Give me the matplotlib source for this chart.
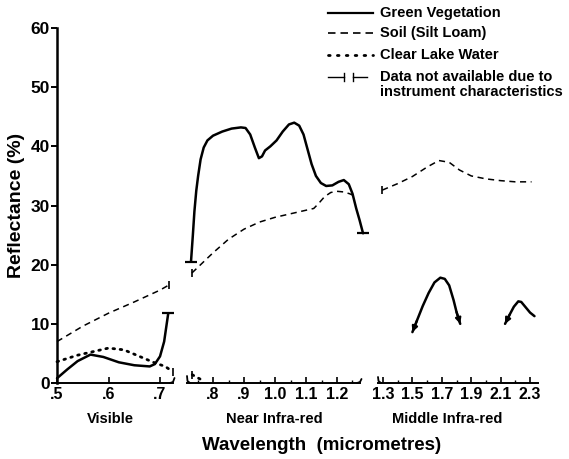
import matplotlib
matplotlib.use("Agg")
import matplotlib.pyplot as plt

plt.rcParams['font.family'] = ['Liberation Sans', 'DejaVu Sans']
plt.rcParams['font.weight'] = 'bold'

# ---------------- data ----------------
# Visible region
veg_vis_x = [0.50, 0.52, 0.54, 0.565, 0.59, 0.62, 0.65, 0.68, 0.69, 0.70, 0.708, 0.716]
veg_vis_y = [0.8, 2.3, 3.7, 4.8, 4.4, 3.5, 3.0, 2.8, 3.2, 4.5, 7.0, 11.8]
soil_vis_x = [0.50, 0.55, 0.60, 0.65, 0.70, 0.718]
soil_vis_y = [7.0, 9.6, 11.8, 13.7, 15.7, 16.6]
water_vis_x = [0.50, 0.54, 0.565, 0.60, 0.63, 0.66, 0.69, 0.71, 0.725]
water_vis_y = [3.6, 4.7, 5.2, 5.9, 5.6, 4.5, 3.4, 2.8, 1.9]

# Near infra-red region
veg_nir_x = [0.729, 0.735, 0.740, 0.746, 0.752, 0.760, 0.770, 0.782, 0.80, 0.83, 0.86, 0.89,
             0.905, 0.92, 0.935, 0.948, 0.958, 0.968, 0.985, 1.005, 1.025, 1.045, 1.062,
             1.078, 1.092, 1.105, 1.118, 1.132, 1.148, 1.165, 1.185, 1.205, 1.222, 1.238,
             1.250, 1.262, 1.273, 1.284]
veg_nir_y = [20.5, 25, 29, 32.5, 35, 37.8, 39.8, 41.0, 41.8, 42.5, 43.0, 43.2,
             43.1, 42.0, 39.8, 38.0, 38.3, 39.3, 40.0, 41.0, 42.5, 43.7, 44.0,
             43.5, 42.0, 39.5, 37.0, 35.0, 33.8, 33.3, 33.4, 34.0, 34.3, 33.6,
             32.0, 29.5, 27.5, 25.3]
soil_nir_x = [0.732, 0.76, 0.80, 0.85, 0.90, 0.95, 1.00, 1.05, 1.10, 1.125, 1.14, 1.16,
              1.18, 1.20, 1.22, 1.24, 1.258]
soil_nir_y = [18.6, 20.0, 22.0, 24.3, 26.0, 27.2, 28.0, 28.6, 29.2, 29.5, 30.3, 31.5,
              32.2, 32.4, 32.3, 32.0, 31.6]
water_nir_x = [0.733, 0.75, 0.768]
water_nir_y = [1.4, 0.9, 0.4]

# Middle infra-red region
soil_mir_x = [1.295, 1.40, 1.50, 1.60, 1.68, 1.75, 1.82, 1.90, 2.00, 2.10, 2.20, 2.31]
soil_mir_y = [32.6, 33.7, 34.9, 36.5, 37.6, 37.3, 36.0, 35.0, 34.5, 34.2, 34.0, 34.0]
veg_mir1_x = [1.50, 1.53, 1.57, 1.61, 1.65, 1.69, 1.72, 1.75, 1.78, 1.80, 1.825]
veg_mir1_y = [8.6, 10.5, 13.0, 15.2, 17.0, 17.8, 17.6, 16.5, 14.0, 12.0, 10.0]
veg_mir2_x = [2.13, 2.16, 2.19, 2.22, 2.24, 2.27, 2.30, 2.33]
veg_mir2_y = [10.0, 11.5, 12.9, 13.8, 13.7, 12.8, 11.9, 11.3]

y_ticks = [0, 10, 20, 30, 40, 50, 60]
vis_ticks = [0.5, 0.6, 0.7]
vis_labels = ['.5', '.6', '.7']
nir_ticks = [0.8, 0.9, 1.0, 1.1, 1.2]
nir_labels = ['.8', '.9', '1.0', '1.1', '1.2']
mir_ticks = [1.3, 1.5, 1.7, 1.9, 2.1, 2.3]
mir_labels = ['1.3', '1.5', '1.7', '1.9', '2.1', '2.3']
mir_minor = [1.4, 1.6, 1.8, 2.0, 2.2]
nir_minor = [0.75, 0.85, 0.95, 1.05, 1.15, 1.25]

legend_labels = ['Green Vegetation', 'Soil (Silt Loam)', 'Clear Lake Water',
                 'Data not available due to\ninstrument characteristics']

# ---------------- figure ----------------
W, H = 569, 459
fig = plt.figure(figsize=(W / 100, H / 100), dpi=100)

def axes_px(x0, x1, y_top=28, y_bot=383):
    return fig.add_axes([x0 / W, (H - y_bot) / H, (x1 - x0) / W, (y_bot - y_top) / H])

ax1 = axes_px(57, 173)
ax2 = axes_px(187, 360)
ax3 = axes_px(378, 538)
ax1.set_xlim(0.5, 0.7252)
ax2.set_xlim(0.7161, 1.2742)
ax3.set_xlim(1.266, 2.354)

K = 'black'
veg_kw = dict(color=K, lw=1.8, solid_capstyle='round', solid_joinstyle='round', clip_on=False)
soil_kw = dict(color=K, lw=1.1, linestyle=(0, (4, 3)), clip_on=False)
water_kw = dict(color=K, lw=2.0, linestyle=(0, (0.6, 2.0)), dash_capstyle='round', clip_on=False)

for ax in (ax1, ax2, ax3):
    ax.set_ylim(0, 60)
    ax.patch.set_alpha(0)
    for s in ('top', 'right'):
        ax.spines[s].set_visible(False)
    ax.spines['bottom'].set_linewidth(1.4)
    ax.tick_params(axis='x', direction='in', length=4, width=1.2, pad=3, labelsize=11.5)
    ax.tick_params(axis='x', which='minor', direction='in', length=2.5, width=1.0)

ax1.spines['left'].set_linewidth(1.8)
ax1.set_yticks(y_ticks)
ax1.set_yticklabels([str(v) for v in y_ticks], fontsize=12.5, fontweight='bold')
ax1.tick_params(axis='y', direction='out', length=4, width=1.4, pad=1)
for ax in (ax2, ax3):
    ax.spines['left'].set_visible(False)
    ax.set_yticks([])

ax1.set_xticks(vis_ticks)
ax1.set_xticklabels(vis_labels, fontsize=11.5, fontweight='bold')
ax2.set_xticks(nir_ticks)
ax2.set_xticklabels(nir_labels, fontsize=11.5, fontweight='bold')
ax2.set_xticks(nir_minor, minor=True)
ax3.set_xticks(mir_ticks)
ax3.set_xticklabels(mir_labels, fontsize=11.5, fontweight='bold')
ax3.set_xticks(mir_minor, minor=True)

# Visible
ax1.plot(veg_vis_x, veg_vis_y, **veg_kw)
ax1.plot(soil_vis_x, soil_vis_y, **soil_kw)
ax1.plot(water_vis_x, water_vis_y, **water_kw)
ax1.plot(veg_vis_x[-1], veg_vis_y[-1], marker='_', ms=8, mew=1.6, color=K, clip_on=False)
ax1.plot(soil_vis_x[-1], soil_vis_y[-1], marker='|', ms=6, mew=1.2, color=K, clip_on=False)
ax1.plot(water_vis_x[-1], water_vis_y[-1], marker='|', ms=6, mew=1.2, color=K, clip_on=False)

# Near IR
ax2.plot(veg_nir_x, veg_nir_y, **veg_kw)
ax2.plot(soil_nir_x, soil_nir_y, **soil_kw)
ax2.plot(water_nir_x, water_nir_y, **water_kw)
ax2.plot([veg_nir_x[0], veg_nir_x[-1]], [veg_nir_y[0], veg_nir_y[-1]], ls='none',
         marker='_', ms=8, mew=1.6, color=K, clip_on=False)
ax2.plot(soil_nir_x[0], soil_nir_y[0], marker='|', ms=6, mew=1.2, color=K, clip_on=False)
ax2.plot(water_nir_x[0], water_nir_y[0], marker='|', ms=6, mew=1.2, color=K, clip_on=False)

# Middle IR
ax3.plot(soil_mir_x, soil_mir_y, **soil_kw)
ax3.plot(soil_mir_x[0], soil_mir_y[0], marker='|', ms=6, mew=1.2, color=K, clip_on=False)
ax3.plot(veg_mir1_x, veg_mir1_y, **veg_kw)
ax3.plot(veg_mir2_x, veg_mir2_y, **veg_kw)
arrow = dict(arrowstyle='-|>', color=K, lw=1.6, mutation_scale=8, shrinkA=0, shrinkB=0)
ax3.annotate('', xy=(veg_mir1_x[0], veg_mir1_y[0]), xytext=(veg_mir1_x[1], veg_mir1_y[1]),
             arrowprops=arrow, annotation_clip=False)
ax3.annotate('', xy=(veg_mir1_x[-1], veg_mir1_y[-1]), xytext=(veg_mir1_x[-2], veg_mir1_y[-2]),
             arrowprops=arrow, annotation_clip=False)
ax3.annotate('', xy=(veg_mir2_x[0], veg_mir2_y[0]), xytext=(veg_mir2_x[1], veg_mir2_y[1]),
             arrowprops=arrow, annotation_clip=False)

# ---------------- overlay in pixel coordinates ----------------
ov = fig.add_axes([0, 0, 1, 1])
ov.set_xlim(0, W)
ov.set_ylim(H, 0)
ov.axis('off')
ov.patch.set_alpha(0)

# axis-break hooks
hk = dict(color=K, lw=1.3, solid_capstyle='round')
ov.plot([170, 173, 174.5], [383, 382, 378], **hk)
ov.plot([190, 187.5, 187], [383, 381, 376], **hk)
ov.plot([357, 360, 361.5], [383, 382, 379], **hk)
ov.plot([381, 378.5, 378], [383, 381, 377], **hk)

# region labels
tk = dict(fontsize=10.5, fontweight='bold', ha='center', va='center')
ov.text(110, 419, 'Visible', **tk)
ov.text(274, 419, 'Near Infra-red', **tk)
ov.text(447, 419, 'Middle Infra-red', **tk)
ov.text(322, 446, 'Wavelength  (micrometres)', fontsize=13.5, fontweight='bold',
        ha='center', va='center')
ov.text(17, 205, 'Reflectance (%)', fontsize=14, fontweight='bold', rotation=90,
        ha='center', va='center')

# legend
lx0, lx1, tx = 328, 373, 380
ov.plot([lx0, lx1], [13, 13], color=K, lw=1.6)
ov.plot([lx0, lx1], [33, 33], color=K, lw=1.2, linestyle=(0, (4.5, 3)))
ov.plot([lx0, lx1], [55, 55], color=K, lw=2.0, linestyle=(0, (0.6, 2.6)), dash_capstyle='round')
ov.plot([lx0, 344], [77, 77], color=K, lw=1.0)
ov.plot([344, 344], [73, 81], color=K, lw=1.0)
ov.plot([353, 353], [73, 81], color=K, lw=1.0)
ov.plot([353, 367], [77, 77], color=K, lw=1.0)
lk = dict(fontsize=10.5, fontweight='bold', ha='left', va='center')
ov.text(tx, 13, legend_labels[0], **lk)
ov.text(tx, 33, legend_labels[1], **lk)
ov.text(tx, 55, legend_labels[2], **lk)
ov.text(tx, 84.5, legend_labels[3], linespacing=1.05, **lk)

fig.savefig('out.png', dpi=100)
